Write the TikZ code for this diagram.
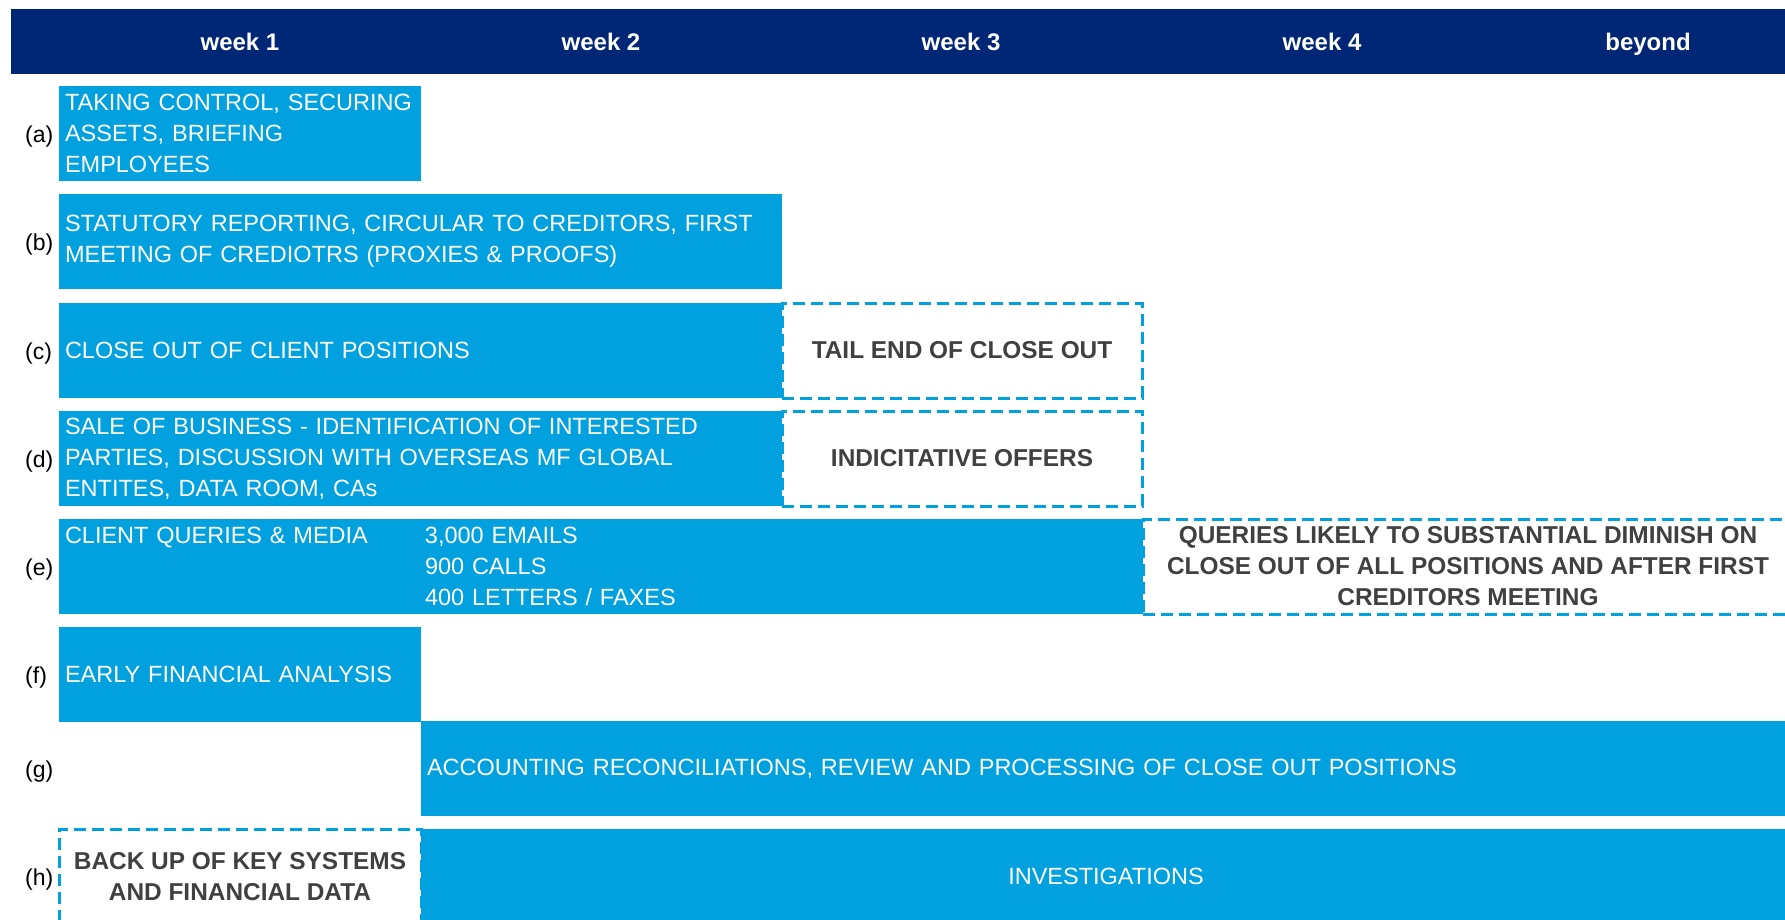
\documentclass[tikz,border=0pt]{standalone}
\usepackage{fontspec}
\setmainfont{Liberation Sans}
\usetikzlibrary{positioning}
\definecolor{headnavy}{RGB}{0,39,118}
\definecolor{barblue}{RGB}{0,161,222}
\definecolor{notegray}{RGB}{64,64,64}
\newcommand{\barfont}{\fontsize{23.5pt}{31pt}\selectfont}
\newcommand{\notefont}{\fontsize{24.4pt}{31pt}\selectfont\bfseries}
\newcommand{\rowfont}{\fontsize{23pt}{28pt}\selectfont}

\begin{document}
\begin{tikzpicture}[x=1pt, y=-1pt, node distance=0pt,
  week/.style={text=white, font=\fontsize{24pt}{28pt}\selectfont\bfseries, anchor=base},
  bar/.style={rectangle, fill=barblue, text=white, font=\barfont, align=left, anchor=north west,
    minimum height=95pt, inner xsep=6pt, inner ysep=0pt, outer sep=0pt},
  tail/.style={rectangle, draw=barblue, line width=3pt, dash pattern=on 12pt off 6pt, fill=white,
    text=notegray, font=\notefont, align=center, minimum height=95pt, inner sep=0pt, outer sep=0pt},
  row/.style={font=\rowfont, anchor=west, inner sep=0pt}]
        % header with the weeks
        \node[fill=headnavy, anchor=north west, minimum width=1780pt, minimum height=65pt, inner sep=0pt] (head) at (11,9) {};
        \node[week] (w1) at (240,50) {week 1};
        \node[week] (w2) at (601,50) {week 2};
        \node[week] (w3) at (961,50) {week 3};
        \node[week] (w4) at (1322,50) {week 4};
        \node[week] (wb) at (1648,50) {beyond};

        \node[bar, text width=350pt] (a) at (59,86) {TAKING CONTROL, SECURING\\ASSETS, BRIEFING\\EMPLOYEES};
        \node[bar, text width=711pt] (b) at (59,194) {STATUTORY REPORTING, CIRCULAR TO CREDITORS, FIRST\\MEETING OF CREDIOTRS (PROXIES \& PROOFS)};
        \node[bar, text width=711pt] (c) at (59,303) {CLOSE OUT OF CLIENT POSITIONS};
        \node[tail, minimum width=360pt, right=of c] (ctail) {TAIL END OF CLOSE OUT};
        \node[bar, text width=711pt] (d) at (59,411) {SALE OF BUSINESS - IDENTIFICATION OF INTERESTED\\PARTIES, DISCUSSION WITH OVERSEAS MF GLOBAL\\ENTITES, DATA ROOM, CAs};
        \node[tail, minimum width=360pt, right=of d] (dtail) {INDICITATIVE OFFERS};
        \node[bar, text width=1072pt] (e) at (59,519) {\makebox[360pt][l]{CLIENT QUERIES \& MEDIA}3,000 EMAILS\\
          \hspace*{360pt}900 CALLS\\\hspace*{360pt}400 LETTERS / FAXES};
        \node[tail, minimum width=650pt, right=of e] (etail) {QUERIES LIKELY TO SUBSTANTIAL DIMINISH ON\\CLOSE OUT OF ALL POSITIONS AND AFTER FIRST\\CREDITORS MEETING};
        \node[bar, text width=350pt] (f) at (59,627) {EARLY FINANCIAL ANALYSIS};
        \node[bar, text width=1358pt] (g) at (421,721) {ACCOUNTING RECONCILIATIONS, REVIEW AND PROCESSING OF CLOSE OUT POSITIONS};
        \node[tail, anchor=north west, minimum width=362pt] (backup) at (59,829) {BACK UP OF KEY SYSTEMS\\AND FINANCIAL DATA};
        \node[bar, text width=1358pt, align=center, right=of backup] (h) {INVESTIGATIONS};

        % row letters
        \node[row] (la) at (25,137) {(a)};
        \node[row] (lb) at (25,245) {(b)};
        \node[row] (lc) at (25,353.5) {(c)};
        \node[row] (ld) at (25,462) {(d)};
        \node[row] (le) at (25,570) {(e)};
        \node[row] (lf) at (25,678) {(f)};
        \node[row] (lg) at (25,771.5) {(g)};
        \node[row] (lh) at (25,880) {(h)};

        \pgfresetboundingbox
        \useasboundingbox (0,0) rectangle (1785,919);
      \end{tikzpicture}
\end{document}
